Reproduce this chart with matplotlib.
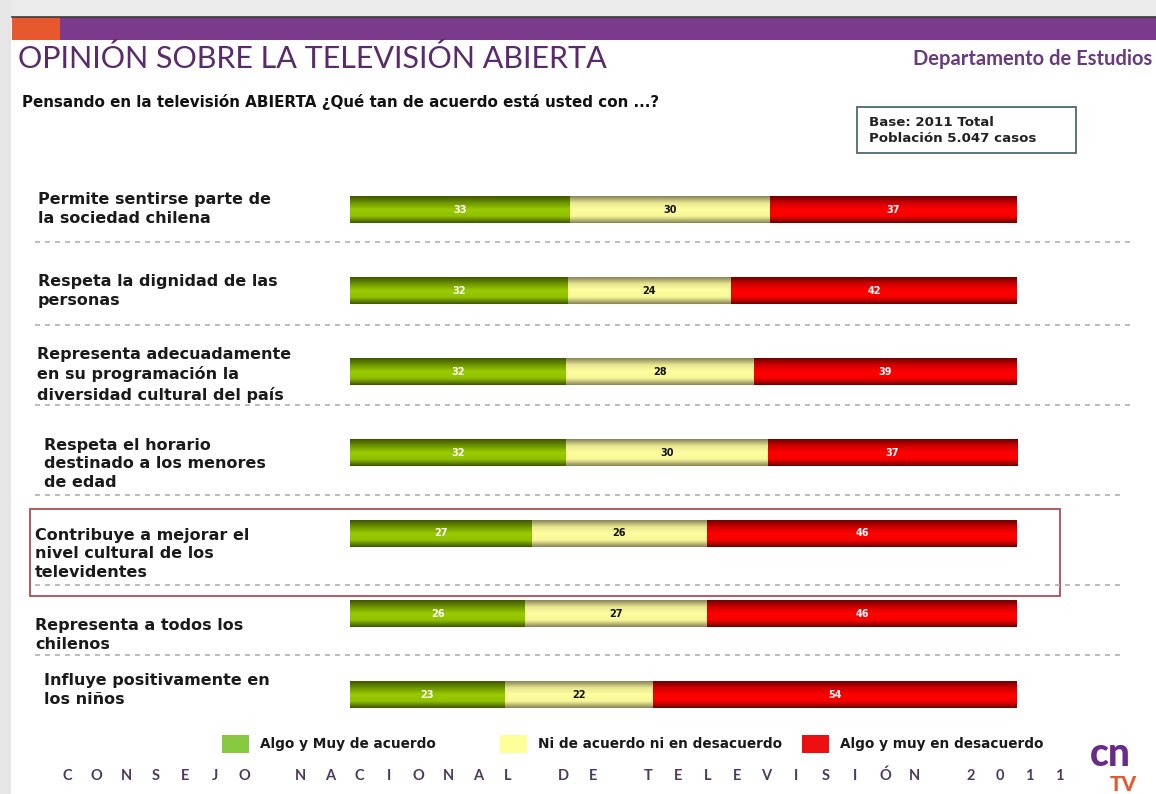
import matplotlib.pyplot as plt
import numpy as np
from matplotlib.colors import LinearSegmentedColormap
from matplotlib.patches import Rectangle
from matplotlib.lines import Line2D

# data
items = [
    "Permite sentirse parte de\nla sociedad chilena",
    "Respeta la dignidad de las\npersonas",
    "Representa adecuadamente\nen su programación la\ndiversidad cultural del país",
    "Respeta el horario\ndestinado a los menores\nde edad",
    "Contribuye a mejorar el\nnivel cultural de los\ntelevidentes",
    "Representa a todos los\nchilenos",
    "Influye positivamente en\nlos niños",
]
de_acuerdo = [33, 32, 32, 32, 27, 26, 23]
ni_ni = [30, 24, 28, 30, 26, 27, 22]
desacuerdo = [37, 42, 39, 37, 46, 46, 54]
series_names = ["Algo y Muy de acuerdo", "Ni de acuerdo ni en desacuerdo", "Algo y muy en desacuerdo"]

W, H = 1156, 794
fig = plt.figure(figsize=(W / 100, H / 100), dpi=100)
fig.patch.set_facecolor("white")


def fx(x):
    return x / W


def fy(y):
    return 1 - y / H


# slide shadow / frame
fig.add_artist(Rectangle((0, fy(17)), 1, 1 - fy(17), transform=fig.transFigure, color="#ebebeb", lw=0))
fig.add_artist(Rectangle((0, 0), fx(11), 1, transform=fig.transFigure, color="#e6e6e6", lw=0))
fig.add_artist(Rectangle((fx(12), fy(40)), 1, fy(17) - fy(40), transform=fig.transFigure, color="#7b3a8b", lw=0))
fig.add_artist(Rectangle((fx(12), fy(40)), fx(48), fy(17) - fy(40), transform=fig.transFigure, color="#e8582e", lw=0))
fig.add_artist(Line2D([fx(12), 1], [fy(17), fy(17)], transform=fig.transFigure, color="#3a3a3a", lw=1.2))

font = "Lato"
bodyfont = "DejaVu Sans"
fig.text(fx(18), fy(58), "OPINIÓN SOBRE LA TELEVISIÓN ABIERTA", fontsize=22, color="#5a2a6c",
         family=font, va="center", ha="left")
fig.text(fx(1152), fy(59), "Departamento de Estudios", fontsize=14.5, color="#6a3a7e",
         family=font, fontweight="bold", va="center", ha="right")
fig.text(fx(22), fy(102), "Pensando en la televisión ABIERTA ¿Qué tan de acuerdo está usted con ...?",
         fontsize=10.9, family=bodyfont, fontweight="bold", va="center", ha="left", color="#111111")

fig.add_artist(Rectangle((fx(857), fy(153)), fx(1076 - 857), fy(107) - fy(153), transform=fig.transFigure,
                         fill=False, edgecolor="#4d6a70", lw=1.3))
fig.text(fx(869), fy(130), "Base: 2011 Total\nPoblación 5.047 casos", fontsize=9.6, family=bodyfont,
         fontweight="bold", va="center", ha="left", color="#222222", linespacing=1.3)

# bars
ax = fig.add_axes([fx(350), fy(735.4), fx(1017 - 350), (735.4 - 169.6) / H])
y = np.arange(len(items))
tot = np.array(de_acuerdo) + np.array(ni_ni) + np.array(desacuerdo)
shares = [np.array(s) / tot * 100 for s in (de_acuerdo, ni_ni, desacuerdo)]
raw = [de_acuerdo, ni_ni, desacuerdo]

grads = [
    LinearSegmentedColormap.from_list("g", ["#3e5800", "#6f9400", "#9acb00", "#90c000", "#3e5800"]),
    LinearSegmentedColormap.from_list("y", ["#8a8558", "#e8e690", "#ffffa0", "#f8f898", "#8a8558"]),
    LinearSegmentedColormap.from_list("r", ["#700000", "#d00000", "#ff0000", "#f80000", "#700000"]),
]
txt_colors = ["white", "#111111", "white"]
gcol = np.linspace(0, 1, 60).reshape(-1, 1)

left = np.zeros(len(items))
for k in range(3):
    bars = ax.barh(y, shares[k], left=left, height=0.33, color="none", edgecolor="none")
    for i, b in enumerate(bars):
        x0, y0 = b.get_x(), b.get_y()
        ax.imshow(gcol, extent=(x0, x0 + b.get_width(), y0 + b.get_height(), y0), aspect="auto",
                  cmap=grads[k], origin="upper", zorder=2)
        ax.text(x0 + b.get_width() / 2, y[i], str(raw[k][i]), ha="center", va="center",
                fontsize=7, fontweight="bold", color=txt_colors[k], family=bodyfont, zorder=3)
    left = left + shares[k]

ax.set_xlim(0, 100)
ax.set_ylim(len(items) - 0.5, -0.5)
ax.axis("off")

# row labels
label_x = [38, 38, 37, 44, 35, 35, 44]
label_y = [209, 291, 375, 464, 554, 635, 690]
for t, lx, ly in zip(items, label_x, label_y):
    fig.text(fx(lx), fy(ly), t, fontsize=11.5, family=bodyfont, fontweight="bold", va="center", ha="left",
             color="#1a1a1a", linespacing=1.32)

# separators
for sy, ex in zip([242, 325, 405, 495, 585, 655], [1135, 1135, 1135, 1120, 1120, 1120]):
    fig.add_artist(Line2D([fx(35), fx(ex)], [fy(sy), fy(sy)], transform=fig.transFigure,
                          color="#b0b0b0", lw=1.2, ls=(0, (3, 3))))

fig.add_artist(Rectangle((fx(30), fy(596)), fx(1060 - 30), fy(509) - fy(596), transform=fig.transFigure,
                         fill=False, edgecolor="#b04a55", lw=1.3))

# legend
leg_colors = ["#86c940", "#ffff99", "#ee1010"]
leg_x = [222, 500, 802]
for c, lx, name in zip(leg_colors, leg_x, series_names):
    fig.add_artist(Rectangle((fx(lx), fy(753)), fx(27), fy(735) - fy(753), transform=fig.transFigure,
                             color=c, lw=0))
    fig.text(fx(lx + 38), fy(744), name, fontsize=9.8, family=bodyfont, fontweight="bold",
             va="center", ha="left", color="#1a1a1a")

# footer, letter-spaced
footer = "CONSEJO NACIONAL DE TELEVISIÓN 2011"
cx = 67
for ch in footer:
    if ch == " ":
        cx += 26
        continue
    fig.text(fx(cx), fy(776), ch, fontsize=10.5, family=font, fontweight="bold",
             color="#4e3a60", va="center", ha="center")
    cx += 29.6
fig.text(fx(1090), fy(766), "cn", fontsize=28, family=font, fontweight="black", color="#6a2a8a",
         va="baseline", ha="left")
fig.text(fx(1110), fy(775), "TV", fontsize=15, family=font, fontweight="black", color="#e8582e",
         va="top", ha="left")

fig.savefig("out.png", dpi=100)
